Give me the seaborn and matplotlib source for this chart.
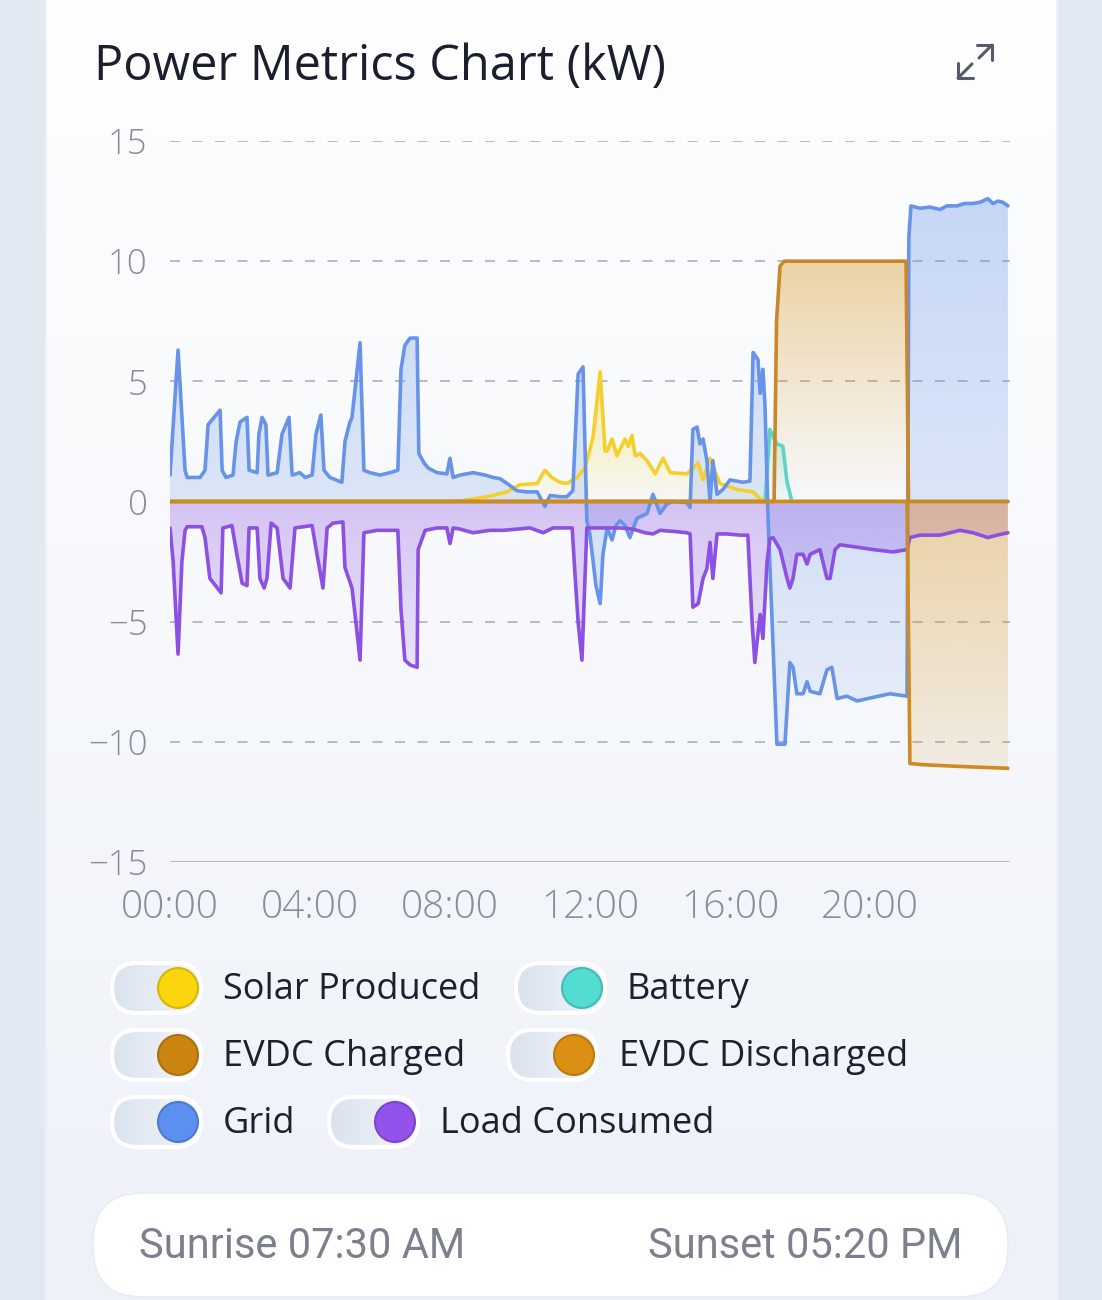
import numpy as np
import pandas as pd
import matplotlib
matplotlib.use("Agg")
import matplotlib.pyplot as plt
import seaborn as sns
from matplotlib.patches import FancyBboxPatch, Circle
from matplotlib.colors import to_rgb

W, H = 1102, 1300

# ---- data: time in hours, power in kW ----
grid_t = [0.0, 0.23, 0.43, 0.49, 0.86, 1.0, 1.09, 1.43, 1.49, 1.6, 1.8, 1.89, 2.0, 2.14, 2.2, 2.26,
          2.49, 2.54, 2.63, 2.74, 2.8, 3.06, 3.2, 3.4, 3.49, 3.71, 3.86, 4.06, 4.17, 4.31, 4.4, 4.57,
          4.91, 5.0, 5.14, 5.2, 5.31, 5.43, 5.54, 5.71, 6.0, 6.29, 6.51, 6.6, 6.71, 6.86, 7.06, 7.11,
          7.26, 7.37, 7.63, 7.91, 8.0, 8.09, 8.29, 8.66, 9.0, 9.23, 9.43, 9.63, 9.91, 10.2, 10.49,
          10.71, 10.86, 11.14, 11.34, 11.51, 11.66, 11.8, 11.91, 12.0, 12.17, 12.29, 12.37, 12.49,
          12.63, 12.74, 12.86, 13.0, 13.14, 13.34, 13.63, 13.8, 14.0, 14.2, 14.37, 14.77, 14.86,
          14.94, 15.06, 15.14, 15.23, 15.34, 15.43, 15.51, 15.63, 15.8, 16.0, 16.37, 16.57, 16.66,
          16.8, 16.86, 16.94, 17.0, 17.09, 17.23, 17.34, 17.57, 17.71, 17.8, 17.91, 18.09, 18.2,
          18.29, 18.57, 18.77, 18.91, 19.06, 19.34, 19.63, 20.09, 20.57, 21.06, 21.11, 21.17, 21.43,
          21.71, 22.0, 22.2, 22.49, 22.71, 22.94, 23.14, 23.37, 23.51, 23.66, 23.8, 23.94]
grid_v = [1.1, 6.3, 1.3, 1.0, 1.0, 1.3, 3.2, 3.8, 1.3, 1.0, 1.1, 2.5, 3.3, 3.45, 3.5, 1.3,
          1.2, 2.8, 3.5, 3.2, 1.1, 1.2, 2.8, 3.5, 1.1, 1.2, 1.0, 1.1, 2.8, 3.6, 1.3, 1.0,
          0.8, 2.5, 3.3, 3.5, 5.0, 6.6, 1.3, 1.2, 1.1, 1.2, 1.3, 5.5, 6.5, 6.8, 6.8, 2.0,
          1.6, 1.4, 1.2, 1.15, 1.8, 1.0, 1.1, 1.2, 1.1, 1.0, 0.95, 0.75, 0.45, 0.4, 0.4,
          -0.2, 0.25, 0.2, 0.2, 0.45, 5.3, 5.6, -0.8, -1.4, -3.5, -4.25, -2.2, -1.1,
          -1.6, -1.0, -0.8, -1.0, -1.5, -0.7, -0.5, 0.3, -0.5, -0.1, 0.0, -0.05, -0.25,
          3.0, 3.1, 2.4, 2.6, 1.7, 0.0, 1.7, 0.3, 0.5, 0.9, 0.8, 0.85, 6.2,
          5.9, 4.5, 5.5, 4.0, -0.8, -6.0, -10.1, -10.1, -6.7, -6.9, -8.0, -8.0, -7.5,
          -7.9, -8.0, -7.0, -6.9, -8.2, -8.1, -8.3, -8.15, -8.0, -8.1, 11.0, 12.3, 12.2,
          12.25, 12.15, 12.3, 12.3, 12.4, 12.4, 12.45, 12.6, 12.4, 12.5, 12.45, 12.3]

load_t = [0.0, 0.09, 0.23, 0.34, 0.43, 0.49, 0.91, 1.0, 1.14, 1.46, 1.51, 1.77, 1.91, 2.06, 2.2,
          2.26, 2.49, 2.57, 2.69, 2.77, 2.89, 3.06, 3.23, 3.43, 3.57, 4.06, 4.2, 4.37, 4.49, 4.66,
          4.94, 5.0, 5.2, 5.31, 5.43, 5.54, 5.91, 6.51, 6.6, 6.71, 6.86, 7.06, 7.09, 7.29, 7.63,
          7.91, 8.0, 8.09, 8.29, 8.66, 9.14, 9.51, 9.91, 10.29, 10.66, 10.94, 11.49, 11.57, 11.66,
          11.77, 11.91, 12.49, 12.86, 13.23, 13.57, 13.8, 14.0, 14.43, 14.77, 14.86, 14.94, 15.09,
          15.23, 15.34, 15.43, 15.51, 15.63, 15.91, 16.29, 16.51, 16.63, 16.71, 16.86, 16.94,
          17.06, 17.14, 17.23, 17.43, 17.63, 17.71, 17.8, 17.91, 18.09, 18.2, 18.29, 18.57,
          18.77, 18.86, 19.0, 19.14, 19.63, 20.09, 20.66, 21.06, 21.14, 21.43, 22.0, 22.57,
          22.94, 23.37, 23.63, 23.94]
load_v = [-1.1, -2.5, -6.35, -2.5, -1.2, -1.05, -1.05, -1.5, -3.2, -3.8, -1.1, -1.0, -2.2, -3.4, -3.5,
          -1.1, -1.1, -3.2, -3.6, -3.2, -0.9, -1.1, -3.2, -3.6, -1.1, -1.0, -2.2, -3.6, -1.1, -0.9,
          -0.85, -2.75, -3.6, -5.0, -6.6, -1.3, -1.2, -1.2, -4.5, -6.6, -6.8, -6.9, -2.0, -1.2, -1.1,
          -1.1, -1.75, -1.1, -1.15, -1.3, -1.2, -1.2, -1.15, -1.1, -1.3, -1.1, -1.1, -3.0, -5.0,
          -6.6, -1.1, -1.1, -1.1, -1.15, -1.3, -1.35, -1.2, -1.25, -1.3, -1.35, -4.4, -4.25,
          -3.2, -2.8, -1.7, -3.2, -1.35, -1.35, -1.4, -1.4, -5.0, -6.7, -4.7, -5.7,
          -2.5, -1.55, -1.5, -2.0, -3.2, -3.6, -3.2, -2.2, -2.2, -2.6, -2.2, -2.0,
          -3.2, -3.2, -2.0, -1.8, -1.9, -2.0, -2.1, -2.0, -1.5, -1.4, -1.4, -1.2,
          -1.3, -1.5, -1.4, -1.3]

solar_t = [0.0, 8.14, 8.37, 9.06, 9.63, 10.0, 10.49, 10.71, 10.91, 11.14, 11.34, 11.63, 11.86, 12.09,
           12.29, 12.43, 12.49, 12.63, 12.77, 13.0, 13.09, 13.2, 13.29, 13.43, 13.63, 13.86, 14.09,
           14.29, 14.77, 15.09, 15.23, 15.43, 15.71, 16.2, 16.66, 16.94, 23.94]
solar_v = [0.0, 0.0, 0.04, 0.2, 0.4, 0.7, 0.75, 1.3, 1.0, 0.8, 0.75, 1.0, 1.4, 2.7,
           5.4, 2.1, 2.1, 2.6, 1.9, 2.6, 2.3, 2.75, 1.9, 2.0, 1.7, 1.15, 1.8,
           1.2, 1.15, 1.6, 0.9, 1.8, 0.75, 0.5, 0.4, 0.0, 0.0]

battery_t = [0.0, 17.0, 17.14, 17.23, 17.34, 17.51, 17.63, 17.77, 23.94]
battery_v = [0.0, 0.0, 3.0, 2.7, 2.4, 2.3, 0.8, 0.0, 0.0]

evdc_chg_t = [0.0, 17.26, 17.33, 17.43, 17.55, 19.0, 20.0, 21.03, 21.1, 23.94]
evdc_chg_v = [0.0, 0.0, 7.5, 9.8, 10.0, 10.0, 10.0, 10.0, 0.0, 0.0]

evdc_dis_t = [0.0, 21.06, 21.14, 21.5, 22.2, 23.0, 23.94]
evdc_dis_v = [0.0, 0.0, -10.9, -10.95, -11.0, -11.05, -11.1]

x_ticks = [0, 4, 8, 12, 16, 20]
x_labels = ["00:00", "04:00", "08:00", "12:00", "16:00", "20:00"]
y_ticks = [-15, -10, -5, 0, 5, 10, 15]

series = ["Solar Produced", "Battery", "Grid", "Load Consumed", "EVDC Charged", "EVDC Discharged"]
colors = {"Solar Produced": "#f4d02c", "Battery": "#5fd4c4", "Grid": "#6794e8",
          "Load Consumed": "#8c50e2", "EVDC Charged": "#c8872a", "EVDC Discharged": "#cf8a22"}
fill_colors = dict(colors, **{"EVDC Charged": "#d99a2b", "EVDC Discharged": "#d99a2b",
                              "Solar Produced": "#f6d42a"})
knob = {"Solar Produced": "#fbd60c", "Battery": "#52dcd2", "Grid": "#5b8ff0",
        "Load Consumed": "#9352ec", "EVDC Charged": "#c98510", "EVDC Discharged": "#dc9013"}

data = {"Solar Produced": (solar_t, solar_v), "Battery": (battery_t, battery_v),
        "Grid": (grid_t, grid_v), "Load Consumed": (load_t, load_v),
        "EVDC Charged": (evdc_chg_t, evdc_chg_v), "EVDC Discharged": (evdc_dis_t, evdc_dis_v)}

df = pd.concat([pd.DataFrame({"time": t, "kW": v, "series": s}) for s, (t, v) in data.items()])

sns.set_theme(style="white")
plt.rcParams['font.family'] = ['Open Sans', 'DejaVu Sans']

fig = plt.figure(figsize=(W / 100, H / 100), dpi=100)
fig.patch.set_facecolor('#e2e9f3')

# background / card
bg = fig.add_axes([0, 0, 1, 1])
bg.axis('off')
card = FancyBboxPatch((46, -70), 1011, 1440, boxstyle="round,pad=0,rounding_size=64",
                      fc='none', ec='#edf1f7', lw=1.5)
bg.add_patch(card)
g = np.ones((256, 1, 3))
top_c, bot_c = np.array(to_rgb('#ffffff')), np.array(to_rgb('#edf1f8'))
g[:, 0, :] = top_c + (bot_c - top_c) * np.linspace(0, 1, 256)[:, None]
im = bg.imshow(g, extent=[46, 1057, 1370, -70], origin='upper', aspect='auto', zorder=0)
im.set_clip_path(card)

pill = FancyBboxPatch((93, 1193), 915, 104, boxstyle="round,pad=0,rounding_size=50",
                      fc='white', ec='#e8edf4', lw=1.2, zorder=2)
bg.add_patch(pill)

bg.text(94, 80, "Power Metrics Chart (kW)", fontsize=35, color='#1b1e2c', weight='medium',
        va='baseline', ha='left')

# expand icon
ic = dict(color='#575a68', lw=2.2, solid_capstyle='round')
bg.plot([977, 992, 992], [45, 45, 60], **ic)
bg.plot([992, 979], [45, 58], **ic)
bg.plot([958, 958, 973], [63, 78, 78], **ic)
bg.plot([958, 972], [78, 64], **ic)

bg.text(139, 1247, "Sunrise 07:30 AM", fontsize=30, color='#7c808d', family=['Roboto', 'DejaVu Sans'],
        va='center', ha='left', zorder=3)
bg.text(963, 1247, "Sunset 05:20 PM", fontsize=30, color='#7c808d', family=['Roboto', 'DejaVu Sans'],
        va='center', ha='right', zorder=3)

# legend toggles
toggles = [("Solar Produced", 112, 988), ("Battery", 516, 988),
           ("EVDC Charged", 112, 1055), ("EVDC Discharged", 508, 1055),
           ("Grid", 112, 1122), ("Load Consumed", 329, 1122)]
for name, x0, yc in toggles:
    p = FancyBboxPatch((x0, yc - 25), 89, 50, boxstyle="round,pad=0,rounding_size=25",
                       fc='none', ec='white', lw=3, zorder=3)
    bg.add_patch(p)
    tg = np.ones((1, 64, 3))
    a, b = np.array(to_rgb('#d9e2ee')), np.array(to_rgb('#f5f7fb'))
    tg[0, :, :] = a + (b - a) * np.linspace(0, 1, 64)[:, None]
    ti = bg.imshow(tg, extent=[x0, x0 + 89, yc + 25, yc - 25], aspect='auto', zorder=2.5)
    ti.set_clip_path(p)
    kc = np.array(to_rgb(knob[name]))
    bg.add_patch(Circle((x0 + 66, yc), 20, fc=knob[name], ec=tuple(kc * 0.85), lw=1.5, zorder=4))
    bg.text(x0 + 111, yc + 2, name, fontsize=26, color='#1d2030', va='center', ha='left', zorder=4)

bg.set_xlim(0, W)
bg.set_ylim(H, 0)

# main chart
ax = fig.add_axes([170 / W, (H - 862) / H, 840 / W, 721 / H])
ax.patch.set_alpha(0)


def grad_fill(t, v, color, a_top, a_bot, z):
    t = np.asarray(t, float)
    v = np.asarray(v, float)
    lo, hi = min(v.min(), 0), max(v.max(), 0)
    if hi - lo < 1e-9:
        return
    poly = ax.fill_between(t, v, 0, color='none', lw=0)
    img = np.zeros((256, 1, 4))
    img[:, 0, :3] = to_rgb(color)
    img[:, 0, 3] = np.linspace(a_top, a_bot, 256)
    gi = ax.imshow(img, extent=[t.min(), t.max(), lo, hi], origin='upper', aspect='auto',
                   zorder=z, interpolation='bilinear')
    gi.set_clip_path(poly.get_paths()[0], transform=ax.transData)


fills = {"Solar Produced": (0.42, 0.04, 0, 0), "Battery": (0.3, 0.05, 0, 0),
         "Grid": (0.36, 0.2, 0.26, 0.08), "Load Consumed": (0, 0, 0.32, 0.12),
         "EVDC Charged": (0.42, 0.0, 0, 0), "EVDC Discharged": (0, 0, 0.42, 0.12)}
for i, s in enumerate(series):
    t, v = data[s]
    v = np.asarray(v, float)
    pt, pb, nt, nb = fills[s]
    if pt > 0:
        grad_fill(t, np.clip(v, 0, None), fill_colors[s], pt, pb, 1 + i * 0.01)
    if nt > 0:
        grad_fill(t, np.clip(v, None, 0), fill_colors[s], nt, nb, 1 + i * 0.01)

for yv in [-10, -5, 0, 5, 10, 15]:
    ax.axhline(yv, color='#aab0bb', lw=1.2, ls=(0, (6, 7.5)), zorder=0.5)
ax.axhline(-15, color='#adb3bf', lw=2.0, zorder=0.5)

sns.lineplot(data=df, x="time", y="kW", hue="series", hue_order=series, palette=colors,
             estimator=None, sort=False, lw=2.6, legend=False, ax=ax, zorder=3)

ax.set_xlim(0, 24)
ax.set_ylim(-15, 15)
ax.set_xticks(x_ticks)
ax.set_xticklabels(x_labels)
ax.set_yticks(y_ticks)
ax.set_xlabel("")
ax.set_ylabel("")
for sp in ax.spines.values():
    sp.set_visible(False)
ax.tick_params(axis='both', length=0, labelsize=25, colors='#8a8e9a')
ax.tick_params(axis='x', labelsize=28, pad=19)
ax.tick_params(axis='y', pad=16)
for lab in ax.get_xticklabels() + ax.get_yticklabels():
    lab.set_fontweight('light')

fig.savefig("out.png", dpi=100)
